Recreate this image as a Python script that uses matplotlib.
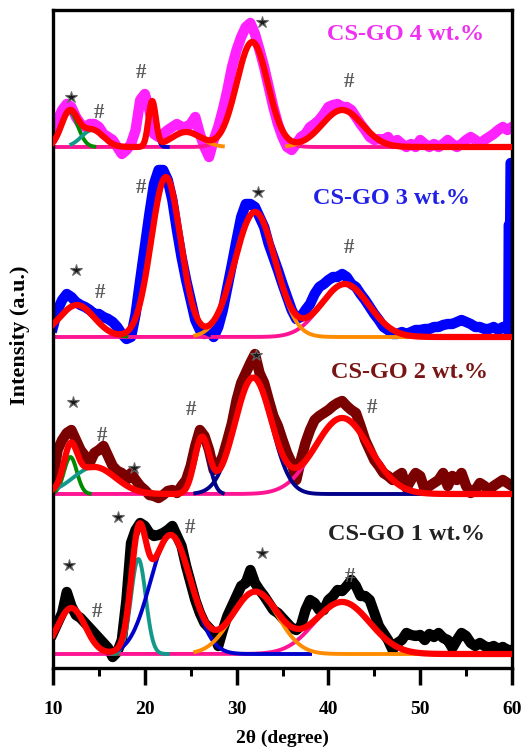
import numpy as np
import matplotlib
matplotlib.use("Agg")
import matplotlib.pyplot as plt

plt.rcParams['font.family'] = ['Liberation Serif', 'DejaVu Serif']
plt.rcParams['font.weight'] = 'bold'

# 2theta grid of the measured patterns (0.5 degree steps, 10..60)
two_theta = np.arange(10, 60.01, 0.5)

# measured intensity above each pattern's baseline (a.u.)
obs_1wt = [21, 31, 41, 62, 48, 39, 36, 31, 26, 21,
           16, 11, 6, -3, 2, 14, 54, 111, 124, 131,
           128, 121, 118, 119, 121, 124, 128, 118, 108, 88,
           71, 54, 41, 31, 26, 21, 8, 24, 38, 48,
           58, 68, 71, 84, 71, 64, 58, 51, 44, 41,
           36, 31, 26, 24, 28, 44, 54, 51, 44, 44,
           54, 58, 64, 63, 68, 74, 68, 58, 58, 54,
           41, 28, 21, 14, 4, 11, 14, 21, 19, 18,
           19, 14, 20, 17, 21, 16, 14, 6, 14, 21,
           18, 11, 8, 11, 8, 6, 8, 5, 7, 4,
           4]
obs_2wt = [14, 44, 54, 61, 64, 54, 44, 38, 31, 41,
           44, 48, 38, 28, 23, 21, 14, 21, 14, 8,
           4, -1, -2, -4, -1, 3, 4, 1, 8, 14,
           28, 48, 64, 58, 44, 24, 28, 38, 54, 71,
           94, 111, 121, 131, 140, 121, 111, 94, 78, 68,
           54, 41, 31, 14, 34, 51, 64, 74, 78, 81,
           84, 88, 91, 93, 88, 84, 81, 68, 54, 44,
           34, 28, 21, 18, 14, 18, 21, 6, 14, 21,
           18, 4, 8, 11, 14, 21, 8, 18, 14, 21,
           8, 1, 4, 11, 8, 4, 8, 11, 14, 11,
           8]
obs_3wt = [10, 27, 37, 43, 40, 35, 32, 30, 27, 23,
           23, 20, 18, 15, 10, 3, -2, 0, 23, 57,
           90, 123, 153, 167, 167, 157, 137, 107, 80, 57,
           37, 17, 7, 3, 7, 0, 10, 27, 50, 73,
           97, 120, 133, 133, 130, 120, 110, 93, 80, 67,
           53, 40, 27, 18, 20, 27, 33, 43, 50, 53,
           57, 60, 60, 63, 60, 53, 50, 43, 37, 30,
           23, 17, 10, 7, 3, 3, 5, 3, 5, 7,
           7, 8, 8, 10, 10, 12, 13, 13, 15, 17,
           15, 13, 10, 10, 8, 8, 10, 7, 10, 7,
           7]
# detector spike at the right end of the 3 wt.% pattern
spike_3wt_x = [59.6, 59.65, 59.8, 59.85, 60.0]
spike_3wt_y = [7, 112, 112, 174, 174]
obs_4wt = [10, 27, 37, 43, 40, 30, 23, 20, 23, 23,
           20, 13, 10, 7, 0, -7, -3, 3, 17, 47,
           53, 37, 13, 10, 13, 17, 20, 23, 20, 20,
           23, 30, 13, 0, -10, 7, 20, 37, 57, 80,
           97, 110, 120, 124, 113, 97, 80, 60, 40, 23,
           10, 0, -3, 3, 10, 13, 20, 23, 27, 33,
           40, 42, 43, 40, 40, 37, 30, 23, 17, 10,
           7, 8, 7, 10, 3, 7, 3, 0, 3, 0,
           7, 3, 0, 3, 0, 3, 7, 3, 0, 3,
           7, 10, 7, 3, 7, 10, 13, 17, 20, 17,
           20]

# fitted gaussian components: centre, height, sigma
fit_1wt_center = [12.0, 19.3, 22.8, 32.0, 41.5]
fit_1wt_height = [46, 95, 119, 62, 52]
fit_1wt_sigma = [1.5, 0.8, 2.2, 2.5, 3.0]
fit_2wt_center = [11.9, 14.5, 26.2, 31.8, 41.5]
fit_2wt_height = [37, 27, 55, 116, 76]
fit_2wt_sigma = [0.7, 2.3, 0.8, 2.0, 3.0]
fit_3wt_center = [12.6, 22.3, 32.0, 41.8]
fit_3wt_height = [32, 160, 125, 53]
fit_3wt_sigma = [1.9, 1.6, 2.2, 2.6]
fit_4wt_center = [11.8, 14.3, 20.8, 24.5, 41.5, 31.7]
fit_4wt_height = [35, 17, 45, 15, 37, 105]
fit_4wt_sigma = [0.9, 1.2, 0.4, 1.6, 2.2, 1.7]

# peak assignments: (2theta, height above baseline)
star_1wt = [(11.74, 89), (17.07, 137), (32.8, 101)]
hash_1wt = [(14.78, 42), (24.9, 126), (42.4, 77)]
star_2wt = [(12.17, 92), (18.8, 26), (32.07, 139)]
hash_2wt = [(15.3, 58), (25.0, 84), (44.7, 86)]
star_3wt = [(12.5, 67), (32.3, 145)]
hash_3wt = [(15.1, 44), (19.57, 149), (42.2, 89)]
star_4wt = [(11.96, 50), (32.8, 125)]
hash_4wt = [(15.0, 34), (19.57, 74), (42.2, 65)]

sample_labels = ["CS-GO 1 wt.%", "CS-GO 2 wt.%", "CS-GO 3 wt.%", "CS-GO 4 wt.%"]

# ---- styling / layout ----
offsets = [14, 174, 331, 521]
data_colors = ['black', '#7B0000', '#0000FF', '#FF22FF']
label_colors = ['#222222', '#7A1515', '#2020E8', '#F030F0']
label_pos = [(48.5, 134), (48.8, 296), (46.85, 469), (48.4, 633)]
GREEN, TEAL, BLUE, NAVY, ORANGE, PINK = '#008A00', '#12998A', '#0000CD', '#00008B', '#FF8C00', '#FF1493'
comp_colors = [[GREEN, TEAL, BLUE, ORANGE, PINK],
               [GREEN, TEAL, NAVY, NAVY, PINK],
               [GREEN, BLUE, ORANGE, PINK],
               [GREEN, TEAL, BLUE, ORANGE, ORANGE, PINK]]
comp_ranges = [[(10, 17), (16.5, 22.5), (16, 38), (25.5, 50), (10, 60)],
               [(10.3, 14), (10.5, 20), (24, 28.5), (25.5, 53), (10, 60)],
               [(10, 18), (18, 27), (25.5, 49), (10, 60)],
               [(10, 14.5), (12, 16.5), (19, 22.5), (23, 28.5), (35.5, 47.5), (10, 60)]]

observed = [obs_1wt, obs_2wt, obs_3wt, obs_4wt]
centers = [fit_1wt_center, fit_2wt_center, fit_3wt_center, fit_4wt_center]
heights = [fit_1wt_height, fit_2wt_height, fit_3wt_height, fit_4wt_height]
sigmas = [fit_1wt_sigma, fit_2wt_sigma, fit_3wt_sigma, fit_4wt_sigma]
stars = [star_1wt, star_2wt, star_3wt, star_4wt]
hashes = [hash_1wt, hash_2wt, hash_3wt, hash_4wt]

fig = plt.figure(figsize=(5.29, 7.55), dpi=100)
ax = fig.add_axes([53 / 529, 87 / 755, 459 / 529, 658 / 755])

fine = np.linspace(10, 60, 1001)

for i in range(4):
    off = offsets[i]
    x_obs = two_theta
    y_obs = np.array(observed[i], dtype=float)
    if i == 2:
        x_obs = np.concatenate([two_theta[:-1], spike_3wt_x])
        y_obs = np.concatenate([y_obs[:-1], spike_3wt_y])
    ax.plot(x_obs, y_obs + off, color=data_colors[i], lw=7.5, zorder=1,
            solid_joinstyle='round')

    total = np.zeros_like(fine)
    n = len(centers[i])
    # pink (full-range) component first so that others overlay it
    order = [n - 1] + list(range(n - 1))
    for k in order:
        g = heights[i][k] * np.exp(-(fine - centers[i][k]) ** 2 / (2 * sigmas[i][k] ** 2))
        total += g
        lo, hi = comp_ranges[i][k]
        m = (fine >= lo) & (fine <= hi)
        ax.plot(fine[m], g[m] + off, color=comp_colors[i][k], lw=2.8, zorder=2)
    ax.plot(fine, total + off, color='#FF0000', lw=4.5, zorder=3)

    for (sx, sy) in stars[i]:
        ax.plot(sx, sy + off, marker='*', ms=9, color='#1a1a1a', mec='#666666',
                mew=0.8, linestyle='none', zorder=4)
    for (hx, hy) in hashes[i]:
        ax.text(hx, hy + off, '#', fontsize=15, color='#5a5a5a', ha='center',
                va='center', zorder=4)

    lx, ly = label_pos[i]
    ax.text(lx, ly, sample_labels[i], color=label_colors[i], fontsize=17.5,
            fontweight='bold', ha='center', va='center', zorder=5)

ax.set_xlim(10, 60)
ax.set_ylim(0, 658)
ax.set_yticks([])
ax.set_xticks([10, 20, 30, 40, 50, 60])
ax.set_xticks([15, 25, 35, 45, 55], minor=True)
ax.tick_params(axis='x', which='major', direction='out', length=12, width=2.5,
               pad=12, labelsize=14)
ax.tick_params(axis='x', which='minor', direction='out', length=6, width=2.2)
for s in ax.spines.values():
    s.set_linewidth(2.4)

fig.text(282 / 529, 1 - 738 / 755, '2\u03b8 (degree)', fontsize=14, fontweight='bold',
         ha='center', va='center')
fig.text(20 / 529, 1 - 335 / 755, 'Intensity (a.u.)', fontsize=16, fontweight='bold',
         ha='center', va='center', rotation=90)

fig.savefig('out.png', dpi=100)
